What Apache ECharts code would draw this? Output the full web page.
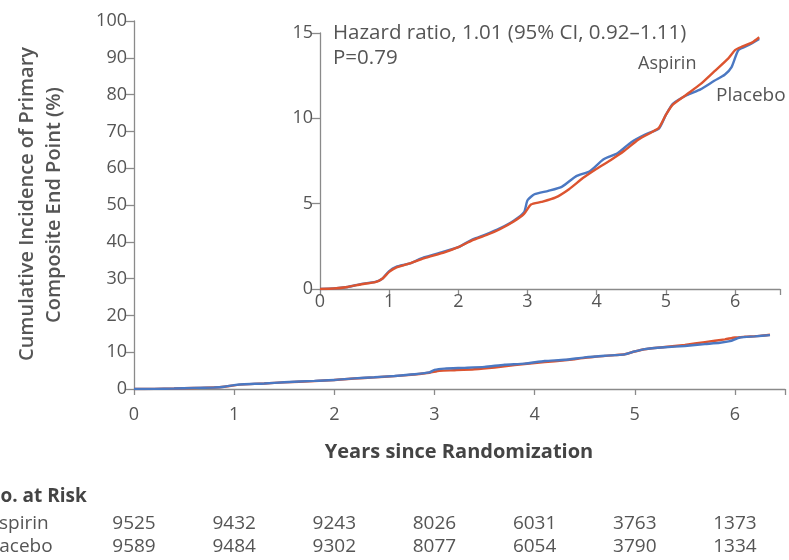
<!DOCTYPE html>
<html>
<head>
<meta charset="utf-8">
<script src="https://cdn.jsdelivr.net/npm/echarts@6/dist/echarts.min.js"></script>
<style>
html,body{margin:0;padding:0;background:#fff;}
#c{width:789px;height:560px;}
</style>
</head>
<body>
<div id="c"></div>
<script>
// ---- data (years since randomization, cumulative incidence %) ----
const aspirinCurve = [
  [0,0],[0.2,0.03],[0.4,0.12],[0.6,0.28],[0.8,0.4],[0.9,0.6],[1.0,1.0],[1.1,1.25],[1.3,1.5],[1.5,1.8],
  [1.8,2.15],[2.0,2.45],[2.2,2.85],[2.4,3.15],[2.6,3.5],[2.8,3.95],[2.95,4.4],[3.05,4.95],[3.2,5.1],
  [3.4,5.35],[3.6,5.85],[3.8,6.5],[4.0,7.05],[4.2,7.55],[4.4,8.1],[4.6,8.75],[4.8,9.2],[4.9,9.45],
  [5.0,10.2],[5.1,10.8],[5.3,11.4],[5.5,12.0],[5.7,12.75],[5.9,13.5],[6.0,14.0],[6.1,14.2],[6.25,14.45],[6.35,14.75]
];
const placeboCurve = [
  [0,0],[0.2,0.03],[0.4,0.12],[0.6,0.3],[0.8,0.42],[0.9,0.6],[1.0,1.05],[1.1,1.3],[1.3,1.5],[1.5,1.85],
  [1.8,2.2],[2.0,2.45],[2.2,2.9],[2.4,3.2],[2.6,3.55],[2.8,4.0],[2.95,4.5],[3.0,5.2],[3.1,5.55],[3.3,5.75],
  [3.5,6.0],[3.7,6.6],[3.9,6.9],[4.1,7.6],[4.3,7.95],[4.5,8.6],[4.7,9.05],[4.9,9.4],[5.0,10.2],[5.1,10.85],
  [5.3,11.35],[5.5,11.7],[5.7,12.2],[5.85,12.55],[5.95,13.0],[6.05,14.0],[6.2,14.3],[6.35,14.65]
];
const riskYears = [0,1,2,3,4,5,6];
const aspirinAtRisk = [9525,9432,9243,8026,6031,3763,1373];
const placeboAtRisk = [9589,9484,9302,8077,6054,3790,1334];
const mainYTicks = {min:0, max:100, interval:10};
const insetYTicks = {min:0, max:15, interval:5};
const groupNames = ['Aspirin','Placebo'];
const yTitle = ['Cumulative Incidence of Primary','Composite End Point (%)'];
const xTitle = 'Years since Randomization';
const hrText = ['Hazard ratio, 1.01 (95% CI, 0.92\u20131.11)','P=0.79'];

// ---- styling ----
const FONT = 'Open Sans';
const AX = '#8a8a8a', LBL = '#555';
const RED = '#dc5430', BLUE = '#4b78c2';

const chart = echarts.init(document.getElementById('c'), null, {renderer:'canvas'});

function xAxisCfg(gi, max, margin){
  return {
    type:'value', gridIndex:gi, min:0, max:max, interval:1,
    axisLine:{show:true, onZero:false, lineStyle:{color:AX, width:1.3}},
    axisTick:{show:true, inside:false, length:6, lineStyle:{color:AX, width:1.3}},
    axisLabel:{color:LBL, fontFamily:FONT, fontSize:18, margin:margin,
      formatter:v => (Number.isInteger(v) ? String(v) : '')},
    splitLine:{show:false}
  };
}
function yAxisCfg(gi, t){
  return {
    type:'value', gridIndex:gi, min:t.min, max:t.max, interval:t.interval,
    axisLine:{show:true, lineStyle:{color:AX, width:1.3}},
    axisTick:{show:true, inside:false, length:8, lineStyle:{color:AX, width:1.3}},
    axisLabel:{color:LBL, fontFamily:FONT, fontSize:18, margin:7},
    splitLine:{show:false}
  };
}
function lineSeries(name, data, color, xi, yi, z){
  return {
    name:name, type:'line', xAxisIndex:xi, yAxisIndex:yi, data:data,
    showSymbol:false, symbol:'none', smooth:0.2, z:z,
    lineStyle:{color:color, width:2.4}, animation:false
  };
}

const option = {
  animation:false,
  backgroundColor:'#fff',
  grid:[
    {left:134, top:21, width:651, height:368},
    {left:320, top:33, width:460, height:256}
  ],
  xAxis:[ xAxisCfg(0, 6.5, 17), xAxisCfg(1, 6.65, 4) ],
  yAxis:[ yAxisCfg(0, mainYTicks), yAxisCfg(1, insetYTicks) ],
  series:[
    lineSeries(groupNames[0], aspirinCurve, RED, 0, 0, 2),
    lineSeries(groupNames[1], placeboCurve, BLUE, 0, 0, 3),
    lineSeries(groupNames[0], aspirinCurve, RED, 1, 1, 3),
    lineSeries(groupNames[1], placeboCurve, BLUE, 1, 1, 2)
  ]
};
chart.setOption(option);

// text / table positioned from the library's own x scale
const txtBase = {fontFamily:FONT, fill:LBL};
function t(text, x, y, size, extra){
  return {type:'text', x:x, y:y,
    style:Object.assign({text:text, fontSize:size, align:'left', verticalAlign:'middle'}, txtBase, extra || {})};
}
const graphics = [
  t(hrText[0], 333, 33, 20.5),
  t(hrText[1], 333, 58, 20.5),
  t(groupNames[0], 638, 64, 18),
  t(groupNames[1], 716, 96, 19),
  Object.assign(t(yTitle[0], 27, 204, 20, {fontWeight:600, align:'center'}), {rotation:Math.PI/2}),
  Object.assign(t(yTitle[1], 54, 205, 20, {fontWeight:600, align:'center'}), {rotation:Math.PI/2}),
  t(xTitle, 459, 452, 20, {fontWeight:'bold', fill:'#444', align:'center'}),
  t('No. at Risk', -15, 497, 19, {fontWeight:'bold', fill:'#444'}),
  t(groupNames[0], -13, 524, 19),
  t(groupNames[1], -17, 547, 19)
];
riskYears.forEach((yr, i) => {
  const px = chart.convertToPixel({xAxisIndex:0}, yr);
  graphics.push(t(String(aspirinAtRisk[i]), px, 524, 19, {align:'center'}));
  graphics.push(t(String(placeboAtRisk[i]), px, 547, 19, {align:'center'}));
});
chart.setOption({graphic:graphics});
</script>
</body>
</html>
